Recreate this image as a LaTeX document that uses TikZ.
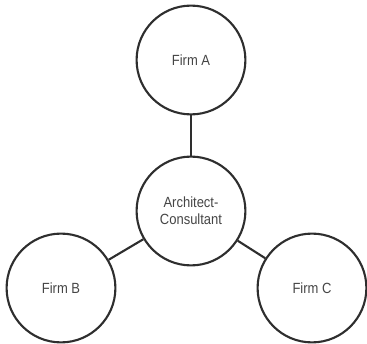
\documentclass[tikz,border=0pt]{standalone}
\usepackage{fontspec}
\setmainfont{Liberation Sans}[FakeStretch=0.88]
\usepackage{xcolor}
\usepackage{tikz}
\usetikzlibrary{shapes}
\definecolor{ink}{HTML}{2E2E2E}
\definecolor{textgray}{HTML}{454545}
\tikzset{firm/.style={circle,draw=ink,line width=1.5pt,inner sep=0pt,minimum size=2.72cm,
	text=textgray,align=center,font=\fontsize{10.5}{12}\selectfont}}
\begin{document}
\begin{tikzpicture}
	\useasboundingbox (0,0) rectangle (9.175,8.6);
	%
	%  FIRMS
	%
	\node[firm] (A) at (4.775,7.1) {Firm A};
	\node[firm] (AC) at (4.775,3.325) {Architect-\\Consultant};
	\node[firm] (B) at (1.525,1.4) {Firm B};
	\node[firm] (C) at (7.8,1.4) {Firm C};
	%
	%  LINKS
	%
	\path[draw=ink,line width=1.5pt]
	(AC) edge (A)
	(AC) edge (B)
	(AC) edge (C);
\end{tikzpicture}
\end{document}
